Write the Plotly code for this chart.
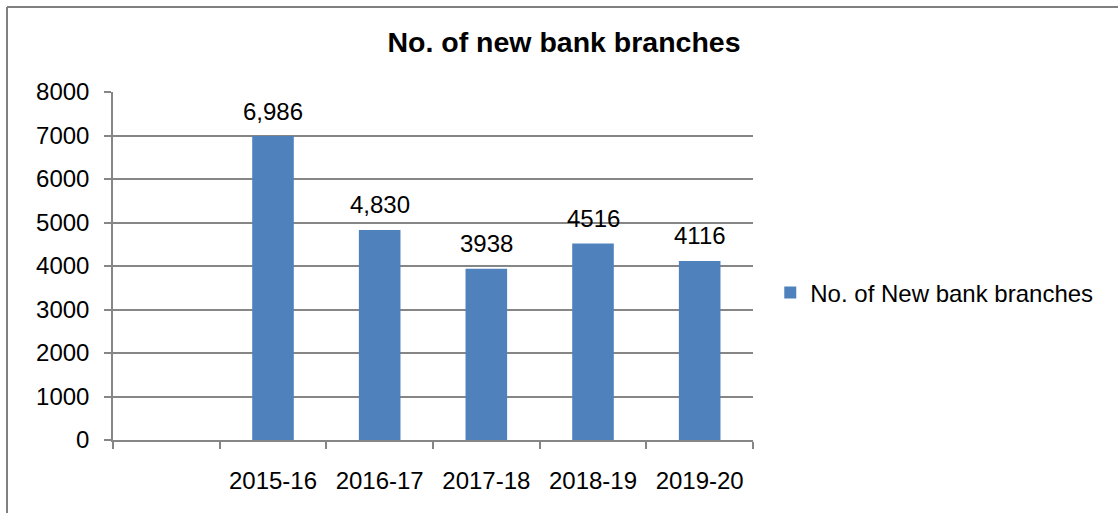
import plotly.graph_objects as go

categories = ["", "2015-16", "2016-17", "2017-18", "2018-19", "2019-20"]
values = [None, 6986, 4830, 3938, 4516, 4116]
value_labels = ["", "6,986", "4,830", "3938", "4516", "4116"]
series_name = "No. of New bank branches"
title_text = "No. of new bank branches"
y_ticks = [0, 1000, 2000, 3000, 4000, 5000, 6000, 7000, 8000]

FONT = "Liberation Sans, Arial, sans-serif"
GRID = "#868686"
BAR = "#4F81BD"

fig = go.Figure()
fig.add_trace(go.Bar(
    x=categories, y=values, name=series_name,
    marker=dict(color=BAR, line=dict(width=0)),
    showlegend=True,
))

for c, v, t in zip(categories, values, value_labels):
    if v is None:
        continue
    fig.add_annotation(x=c, y=v, text=t, showarrow=False, xref="x", yref="y",
                       yanchor="middle", yshift=25,
                       font=dict(family=FONT, size=24, color="#000000"))

fig.update_layout(
    width=1118, height=513,
    margin=dict(l=113, r=365, t=92, b=73, pad=0),
    paper_bgcolor="white", plot_bgcolor="white",
    bargap=0.61,
    font=dict(family=FONT, size=24, color="#000000"),
    title=dict(text="<b>" + title_text + "</b>", x=564 / 1118, xref="container", xanchor="center",
               y=1 - 42 / 513, yref="container", yanchor="middle",
               font=dict(family=FONT, size=28.5, color="#000000")),
    legend=dict(x=1.027, xanchor="left", y=(440 - 293) / 348, yanchor="middle",
                font=dict(family=FONT, size=24, color="#000000"),
                bgcolor="rgba(0,0,0,0)", borderwidth=0),
    xaxis=dict(type="category", categoryorder="array", categoryarray=categories,
               showline=True, linecolor=GRID, linewidth=1.5,
               ticks="outside", ticklen=7, tickcolor=GRID, tickwidth=1.5,
               tickson="boundaries", showgrid=False, ticklabelstandoff=18,
               tickfont=dict(family=FONT, size=24, color="#000000"),
               range=[-0.5, 5.5], fixedrange=True),
    yaxis=dict(range=[0, 8000], tickvals=y_ticks, ticktext=[str(v) for v in y_ticks],
               showline=True, linecolor=GRID, linewidth=1.5,
               ticks="outside", ticklen=7, tickcolor=GRID, tickwidth=1.5,
               showgrid=True, gridcolor=GRID, gridwidth=1.5, zeroline=False,
               ticklabelstandoff=10, fixedrange=True,
               tickfont=dict(family=FONT, size=24, color="#000000")),
    shapes=[
        dict(type="line", xref="paper", yref="paper",
             x0=(7 - 113) / 640, x1=(1125 - 113) / 640, y0=(440 - 7) / 348, y1=(440 - 7) / 348,
             line=dict(color="#808080", width=2)),
        dict(type="line", xref="paper", yref="paper",
             x0=(7 - 113) / 640, x1=(7 - 113) / 640, y0=(440 - 7) / 348, y1=(440 - 520) / 348,
             line=dict(color="#808080", width=2)),
    ],
)

fig.write_html("out.html", config={"displayModeBar": False},
               post_script="document.body.style.margin='0';document.body.style.overflow='hidden';")
